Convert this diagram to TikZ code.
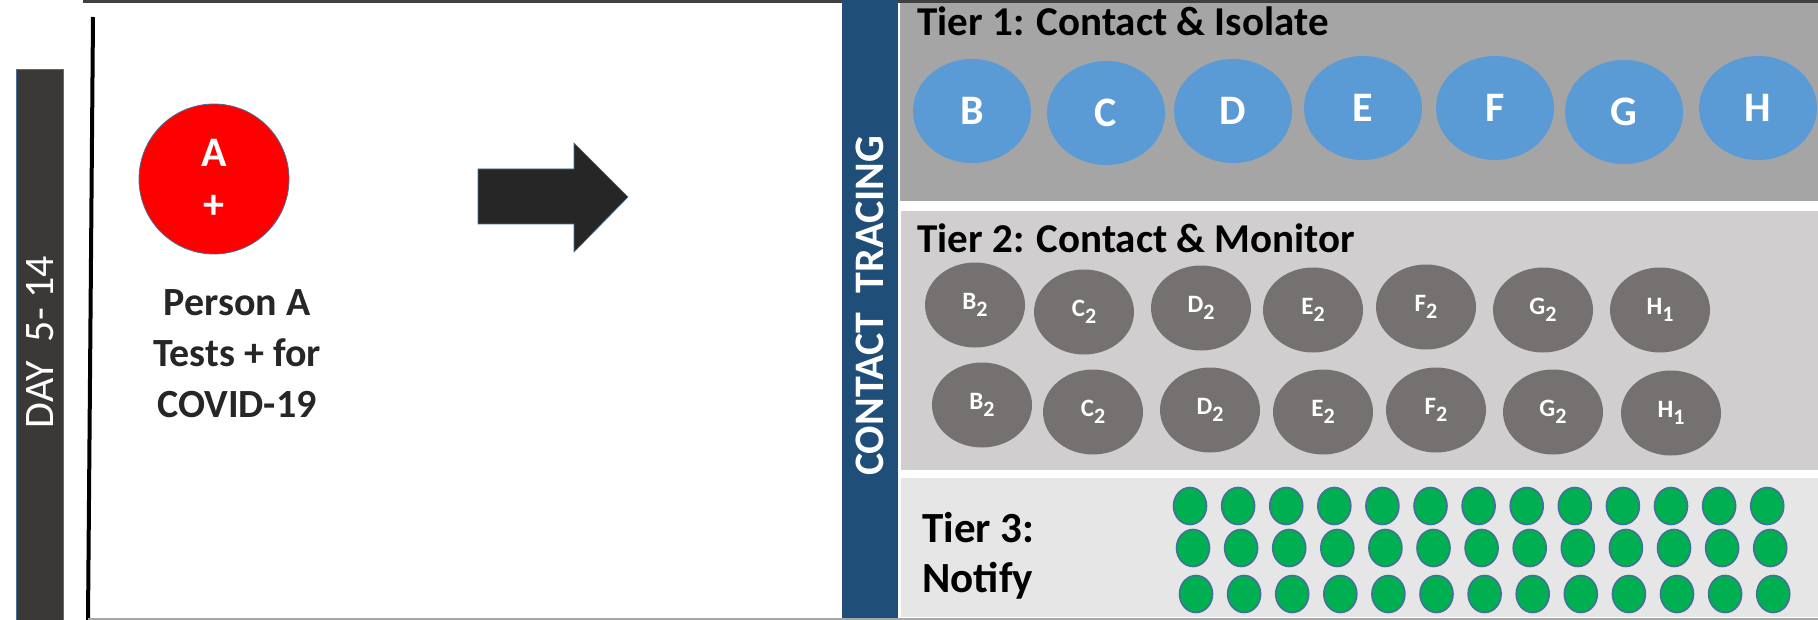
\documentclass[tikz,border=0pt]{standalone}
\usepackage{fontspec}
\setmainfont{Carlito}
\usetikzlibrary{shapes.geometric}

\definecolor{navy}{HTML}{1F4E79}
\definecolor{daygray}{HTML}{3B3838}
\definecolor{rimblue}{HTML}{41719C}
\definecolor{isoblue}{HTML}{5B9BD5}
\definecolor{mongray}{HTML}{767171}
\definecolor{notgreen}{HTML}{00B050}
\definecolor{tieronebg}{HTML}{A5A5A5}
\definecolor{tiertwobg}{HTML}{D0CECE}
\definecolor{tierthreebg}{HTML}{E7E6E6}
\definecolor{darktext}{HTML}{262626}

\newcommand{\lowidx}[1]{\raisebox{-0.3em}{\fontsize{11}{12}\selectfont#1}}

\tikzset{isolate/.style={ellipse,fill=isoblue,minimum width=59pt,minimum height=52pt,inner sep=0pt,text=white,font=\bfseries\fontsize{21}{24}\selectfont}}
\tikzset{monitor/.style={ellipse,fill=mongray,minimum width=50pt,minimum height=42.5pt,inner sep=0pt,text=white,font=\bfseries\fontsize{12.5}{15}\selectfont}}
\tikzset{notify/.style={ellipse,fill=notgreen,draw=rimblue,line width=0.8pt,minimum width=16.5pt,minimum height=18.5pt,inner sep=0pt}}
\tikzset{tiertitle/.style={anchor=base west,inner sep=0pt,font=\bfseries\fontsize{20.5}{23.5}\selectfont}}

\begin{document}
\begin{tikzpicture}[x=0.5pt,y=-0.5pt]
	\useasboundingbox (0,0) rectangle (1818,620);

	% day bar and left frame
	\filldraw[fill=daygray,draw=rimblue,line width=0.4pt] (16,69) rectangle (63,620);
	\node[rotate=90,text=white,inner sep=0pt,font=\fontsize{21}{24}\selectfont] (day) at (40,342) {DAY\ \ 5- 14};
	\draw[line width=1.5pt,black!75] (83,1.5) -- (1818,1.5);
	\draw[line width=2pt] (93,17) -- (88,620);
	\draw[line width=1pt,black!35] (88,619) -- (1818,619);

	% person A
	\node[circle,fill=red,draw=rimblue,line width=0.4pt,minimum size=75pt,inner sep=0pt,align=center,
		text=white,font=\bfseries\fontsize{21}{26}\selectfont] (a) at (214,179) {A\\+};
	\node[anchor=north,inner sep=0pt,align=center,text=darktext,font=\bfseries\fontsize{20}{25.5}\selectfont]
		(person) at (237,289) {Person A\\Tests + for\\COVID-19};

	\filldraw[fill=darktext,draw=rimblue,line width=0.3pt] (478,169) -- (574,169) -- (574,143) -- (628,197)
		-- (574,252) -- (574,224) -- (478,224) -- cycle;

	% contact tracing bar
	\fill[navy] (842,0) rectangle (898,618);
	\node[rotate=90,text=white,inner sep=0pt,font=\bfseries\fontsize{21}{24}\selectfont] (tracing) at (870,306) {CONTACT\ \ TRACING};

	% tiers
	\fill[tieronebg] (900,3) rectangle (1818,201);
	\fill[tiertwobg] (901,211) rectangle (1818,470);
	\fill[tierthreebg] (901,478) rectangle (1818,617);

	\node[tiertitle] (t1) at (917,36) {Tier 1: Contact \& Isolate};
	\node[tiertitle] (t2) at (917,252) {Tier 2: Contact \& Monitor};
	\node[tiertitle,align=left,anchor=north west,font=\bfseries\fontsize{21.5}{25}\selectfont] (t3) at (922,512) {Tier 3:\\Notify};

	\foreach \n/\x/\y in {B/972/111,C/1106/113,D/1233/111,E/1363/108,F/1495/108,G/1624/112,H/1758/108}
		\node[isolate] (\n) at (\x,\y) {\n};

	\foreach \n/\k/\x/\y in {B/2/975/305,C/2/1084/312,D/2/1201/308,E/2/1313/310,F/2/1426/307,G/2/1543/310,H/1/1660/310}
		\node[monitor] (\n-1) at (\x,\y) {\n\lowidx{\k}};
	\foreach \n/\k/\x/\y in {B/2/982/405,C/2/1093/412,D/2/1210/410,E/2/1323/412,F/2/1436/410,G/2/1553/412,H/1/1671/413}
		\node[monitor] (\n-2) at (\x,\y) {\n\lowidx{\k}};

	\foreach \r/\y/\dx in {1/506/0,2/548/3,3/594/6}
		\foreach \c in {0,...,12}
			\node[notify] (dot-\r-\c) at ({1190+48.1*\c+\dx},\y) {};
\end{tikzpicture}
\end{document}
